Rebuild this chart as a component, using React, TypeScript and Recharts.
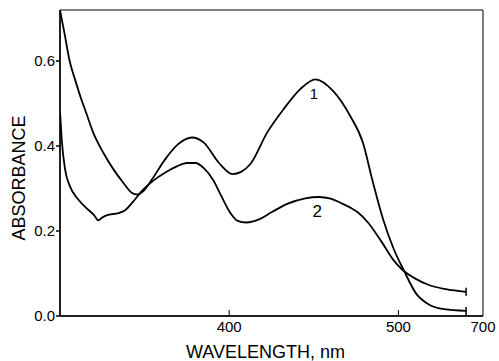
import { LineChart, Line, XAxis, YAxis, ReferenceArea, ReferenceDot } from "recharts";

// curve 1: wavelength (nm) / absorbance
const curve1 = [
  { nm: 300, a: 0.72 },
  { nm: 302.8, a: 0.662 },
  { nm: 305.7, a: 0.6 },
  { nm: 309, a: 0.555 },
  { nm: 312.6, a: 0.51 },
  { nm: 314.8, a: 0.486 },
  { nm: 319.7, a: 0.431 },
  { nm: 325.6, a: 0.384 },
  { nm: 331.6, a: 0.345 },
  { nm: 337.5, a: 0.313 },
  { nm: 342.4, a: 0.29 },
  { nm: 345.4, a: 0.286 },
  { nm: 349.3, a: 0.294 },
  { nm: 354.3, a: 0.321 },
  { nm: 362, a: 0.368 },
  { nm: 370, a: 0.405 },
  { nm: 378, a: 0.42 },
  { nm: 385, a: 0.408 },
  { nm: 394, a: 0.36 },
  { nm: 402, a: 0.334 },
  { nm: 407, a: 0.339 },
  { nm: 412.4, a: 0.357 },
  { nm: 422.5, a: 0.432 },
  { nm: 432, a: 0.486 },
  { nm: 442, a: 0.534 },
  { nm: 451, a: 0.557 },
  { nm: 461.5, a: 0.529 },
  { nm: 471.6, a: 0.47 },
  { nm: 479, a: 0.408 },
  { nm: 484.6, a: 0.32 },
  { nm: 491, a: 0.227 },
  { nm: 497, a: 0.16 },
  { nm: 503, a: 0.109 },
  { nm: 510.6, a: 0.052 },
  { nm: 518, a: 0.027 },
  { nm: 527, a: 0.016 },
  { nm: 540, a: 0.012 },
];

// curve 2
const curve2 = [
  { nm: 300, a: 0.482 },
  { nm: 301, a: 0.416 },
  { nm: 303, a: 0.345 },
  { nm: 305.9, a: 0.305 },
  { nm: 310.8, a: 0.274 },
  { nm: 316.7, a: 0.25 },
  { nm: 320, a: 0.238 },
  { nm: 322.7, a: 0.225 },
  { nm: 325, a: 0.232 },
  { nm: 328.6, a: 0.238 },
  { nm: 334.5, a: 0.242 },
  { nm: 338.5, a: 0.249 },
  { nm: 343, a: 0.268 },
  { nm: 348.3, a: 0.294 },
  { nm: 355, a: 0.318 },
  { nm: 362, a: 0.337 },
  { nm: 369, a: 0.352 },
  { nm: 375, a: 0.36 },
  { nm: 380, a: 0.36 },
  { nm: 385, a: 0.348 },
  { nm: 390.5, a: 0.32 },
  { nm: 395, a: 0.285 },
  { nm: 400.6, a: 0.243 },
  { nm: 405, a: 0.224 },
  { nm: 410, a: 0.22 },
  { nm: 418, a: 0.228 },
  { nm: 425, a: 0.244 },
  { nm: 435, a: 0.265 },
  { nm: 445, a: 0.277 },
  { nm: 453, a: 0.28 },
  { nm: 460, a: 0.276 },
  { nm: 466, a: 0.266 },
  { nm: 471.6, a: 0.255 },
  { nm: 476, a: 0.244 },
  { nm: 482, a: 0.22 },
  { nm: 490, a: 0.175 },
  { nm: 497, a: 0.132 },
  { nm: 502, a: 0.11 },
  { nm: 510, a: 0.088 },
  { nm: 518, a: 0.073 },
  { nm: 528, a: 0.063 },
  { nm: 540, a: 0.057 },
];

const xTicks = [400, 500, 550];
const xTickLabels: Record<number, string> = { 400: "400", 500: "500", 550: "700" };
const yTicks = [0, 0.2, 0.4, 0.6];

const FONT = "'Liberation Sans', Arial, sans-serif";

const XTick = (props: any) => {
  const { x, y, payload } = props;
  return (
    <g>
      {payload.value !== 550 && (
        <line x1={x} x2={x} y1={y - 6} y2={y} stroke="#000" strokeWidth={1} />
      )}
      <text x={x} y={y + 16} textAnchor="middle" fontSize={15} fill="#000" fontFamily={FONT}>
        {xTickLabels[payload.value]}
      </text>
    </g>
  );
};

// break mark drawn at the last point of each curve
const endMark = (len: number) => (props: any) => {
  const { cx, cy, index } = props;
  if (index !== len - 1) return <g key={index} />;
  return (
    <line key={index} x1={cx} x2={cx} y1={cy - 4} y2={cy + 4} stroke="#000" strokeWidth={1.5} />
  );
};

const YTitle = (props: any) => {
  const { viewBox } = props;
  const cy = viewBox.y + viewBox.height / 2 + 15;
  return (
    <text
      x={19}
      y={cy}
      transform={`rotate(-90, 19, ${cy})`}
      textAnchor="middle"
      dominantBaseline="central"
      fontSize={18}
      fill="#000"
      fontFamily={FONT}
    >
      ABSORBANCE
    </text>
  );
};

export default function App() {
  return (
    <div style={{ position: "absolute", left: 0, top: 0, background: "#fff" }}>
      <LineChart
        width={499}
        height={361}
        margin={{ top: 10, right: 16, left: 0, bottom: 0 }}
        style={{ fontFamily: FONT }}
      >
        <XAxis
          type="number"
          dataKey="nm"
          domain={[300, 550]}
          ticks={xTicks}
          tick={<XTick />}
          tickSize={0}
          tickMargin={0}
          height={45}
          allowDataOverflow
          stroke="#000"
          strokeWidth={1.5}
          label={{
            value: "WAVELENGTH, nm",
            position: "insideBottom",
            offset: 3,
            fill: "#000",
            fontSize: 18,
            dx: -6,
          }}
        />
        <YAxis
          type="number"
          domain={[0, 0.72]}
          ticks={yTicks}
          tickFormatter={(v: number) => v.toFixed(1)}
          tick={{ fill: "#000", fontSize: 15 }}
          tickSize={4}
          tickMargin={1}
          width={60}
          allowDataOverflow
          stroke="#000"
          strokeWidth={1.5}
          label={<YTitle />}
        />
        <ReferenceArea x1={300} x2={550} y1={0} y2={0.72} fill="none" stroke="#000" strokeWidth={1} />
        <Line
          data={curve1}
          dataKey="a"
          type="monotone"
          stroke="#000"
          strokeWidth={1.8}
          dot={endMark(curve1.length)}
          activeDot={false}
          isAnimationActive={false}
        />
        <Line
          data={curve2}
          dataKey="a"
          type="monotone"
          stroke="#000"
          strokeWidth={1.8}
          dot={endMark(curve2.length)}
          activeDot={false}
          isAnimationActive={false}
        />
        <ReferenceDot
          x={450}
          y={0.522}
          r={0}
          label={{ value: "1", fill: "#000", fontSize: 15, position: "center" }}
        />
        <ReferenceDot
          x={452}
          y={0.248}
          r={0}
          label={{ value: "2", fill: "#000", fontSize: 17, position: "center" }}
        />
      </LineChart>
    </div>
  );
}
